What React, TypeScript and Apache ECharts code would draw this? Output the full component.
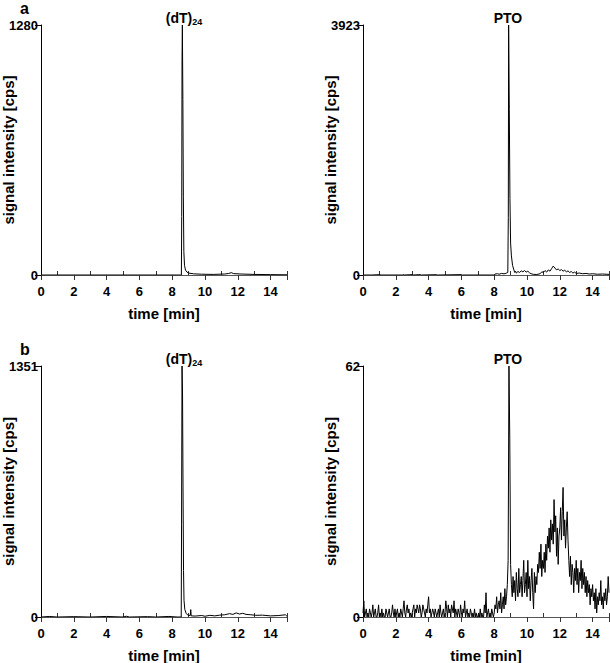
import React, { useEffect, useRef } from "react";
import * as echarts from "echarts";

// ---- data ----
const xTicks = [0, 2, 4, 6, 8, 10, 12, 14];
const xMinorTicks = [1, 3, 5, 7, 9, 11, 13, 15];
const panelTitles = ["(dT)24", "PTO", "(dT)24", "PTO"];
const panelLetters = ["a", "b"];
const yMaxes = [1280, 3923, 1351, 62];

// a, (dT)24 : [time min, cps]
const aDt24: [number, number][] = [
  [0, 0], [8.5, 0], [8.56, 0], [8.58, 300], [8.6, 1100], [8.62, 1280], [8.65, 900], [8.68, 400],
  [8.71, 120], [8.75, 50], [8.81, 25], [8.9, 15], [9.0, 10], [9.3, 6], [9.8, 4], [10.5, 3],
  [11.2, 5], [11.45, 8], [11.6, 12], [11.75, 7], [12.2, 5], [13, 3], [14, 2], [15, 1],
];

// a, PTO
const aPto: [number, number][] = [
  [0, 0], [0.5, 0], [1.0, 5], [1.1, 0], [2.4, 0], [2.45, 8], [2.5, 0], [3.0, 6], [3.05, 0],
  [3.5, 6], [3.55, 0], [4.5, 5], [4.55, 0], [6.0, 6], [6.05, 0], [8.0, 0], [8.05, 15], [8.2, 20],
  [8.3, 12], [8.45, 25], [8.6, 18], [8.75, 30], [8.83, 40], [8.86, 900], [8.88, 3923], [8.92, 2600],
  [8.96, 1200], [9.0, 500], [9.05, 300], [9.12, 150], [9.2, 80], [9.25, 40], [9.3, 60], [9.35, 30],
  [9.45, 55], [9.55, 40], [9.65, 65], [9.75, 50], [9.85, 70], [9.95, 45], [10.05, 60], [10.15, 35],
  [10.25, 20], [10.4, 10], [10.6, 8], [10.8, 20], [10.9, 50], [11.0, 40], [11.1, 70], [11.2, 45],
  [11.3, 80], [11.4, 60], [11.5, 100], [11.6, 140], [11.7, 110], [11.8, 80], [11.9, 95], [12.0, 70],
  [12.1, 85], [12.2, 60], [12.3, 75], [12.4, 50], [12.5, 65], [12.6, 40], [12.7, 55], [12.8, 30],
  [12.9, 45], [13.0, 25], [13.2, 30], [13.4, 20], [13.6, 25], [13.8, 15], [14.0, 20], [14.3, 12],
  [14.6, 15], [15.0, 10],
];

// b, (dT)24
const bDt24: [number, number][] = [
  [0, 0], [0.5, 3], [1.0, 0], [2.0, 2], [3.0, 0], [4.0, 3], [5.0, 0], [5.2, 4], [5.4, 0], [6.5, 2],
  [7.0, 0], [7.8, 3], [8.3, 0], [8.55, 0], [8.57, 500], [8.6, 1351], [8.63, 1200], [8.66, 700],
  [8.69, 250], [8.72, 90], [8.77, 40], [8.85, 20], [8.95, 10], [9.1, 8], [9.13, 40], [9.16, 6],
  [9.4, 5], [9.8, 8], [10.0, 4], [10.3, 9], [10.6, 6], [10.9, 10], [11.2, 12], [11.5, 18],
  [11.7, 14], [11.9, 22], [12.1, 16], [12.3, 20], [12.5, 14], [12.8, 12], [13.1, 9], [13.5, 10],
  [14.0, 6], [14.5, 8], [14.9, 12], [15.0, 4],
];

// b, PTO : one value every 0.05 min from 0 to 15
const bPtoValues: number[] = [
  1, 4, 0, 1, 2, 0, 1, 0, 2, 1, 0, 1, 3, 0, 1, 2, 0, 0, 1, 3,
  0, 1, 0, 2, 0, 1, 0, 0, 2, 1, 0, 1, 2, 0, 0, 1, 3, 1, 0, 2,
  0, 1, 2, 0, 1, 0, 2, 1, 0, 2, 4, 1, 0, 2, 3, 1, 2, 0, 1, 0,
  1, 2, 3, 0, 2, 1, 3, 2, 1, 3, 2, 0, 1, 3, 2, 1, 0, 2, 1, 3,
  5, 1, 2, 0, 1, 2, 1, 0, 2, 1, 0, 1, 2, 0, 3, 1, 0, 1, 2, 0,
  1, 4, 2, 0, 3, 1, 2, 0, 3, 2, 1, 4, 0, 2, 1, 0, 2, 1, 0, 3,
  1, 0, 2, 1, 4, 0, 1, 2, 0, 1, 0, 2, 1, 0, 1, 0, 2, 0, 1, 0,
  0, 1, 0, 2, 0, 1, 0, 0, 3, 1, 6, 0, 1, 2, 0, 1, 0, 2, 1, 0,
  1, 3, 2, 5, 1, 3, 4, 2, 6, 1, 3, 5, 2, 7, 3, 5, 8, 14, 62, 44,
  13, 8, 5, 10, 6, 9, 4, 11, 7, 5, 12, 6, 8, 10, 5, 9, 14, 6, 8, 11,
  5, 14, 7, 10, 4, 9, 12, 6, 2, 11, 6, 10, 8, 13, 11, 16, 12, 18, 10, 14,
  12, 16, 11, 18, 14, 20, 17, 22, 16, 24, 19, 23, 18, 29, 21, 25, 15, 22, 13, 20,
  22, 27, 19, 26, 32, 20, 24, 17, 22, 26, 19, 14, 10, 15, 8, 13, 11, 6, 12, 9,
  14, 8, 12, 6, 11, 9, 14, 7, 12, 8, 11, 6, 10, 5, 9, 6, 8, 3, 7, 5,
  8, 4, 6, 2, 7, 1, 5, 3, 6, 4, 9, 3, 5, 2, 6, 4, 7, 3, 5, 10,
  6,
];
const bPtoTimes: number[] = bPtoValues.map((_, i) => Math.round(i * 5) / 100);
const bPto: [number, number][] = bPtoTimes.map((t, i) => [t, bPtoValues[i]]);

const seriesData = [aDt24, aPto, bDt24, bPto];

export default function App() {
  const ref = useRef<HTMLDivElement>(null);
  useEffect(() => {
    if (!ref.current) return;
    const chart = echarts.init(ref.current, null, { renderer: "svg" });
    const font = "Liberation Sans, Arial, sans-serif";
    const grids = [
      { left: 41, top: 25, width: 246, height: 250, outerBoundsMode: "none" },
      { left: 363, top: 25, width: 246, height: 250, outerBoundsMode: "none" },
      { left: 41, top: 366, width: 246, height: 251, outerBoundsMode: "none" },
      { left: 363, top: 366, width: 246, height: 251, outerBoundsMode: "none" },
    ];
    const xAxes: any[] = grids.map((_, i) => ({
      type: "value",
      gridIndex: i,
      min: 0,
      max: 15,
      interval: 2,
      name: "time [min]",
      nameLocation: "middle",
      nameGap: 31,
      nameMoveOverlap: false,
      nameTextStyle: { fontFamily: font, fontWeight: "bold", fontSize: 15, color: "#000" },
      axisLine: { show: true, lineStyle: { color: "#555", width: 1 } },
      axisTick: { show: true, length: 5, lineStyle: { color: "#333" } },
      splitLine: { show: false },
      axisLabel: {
        fontFamily: font, fontWeight: "bold", fontSize: 13, color: "#000", margin: 10,
        customValues: xTicks,
      },
    }));
    // inward minor ticks at odd minutes
    grids.forEach((_, i) => {
      xAxes.push({
        type: "value",
        gridIndex: i,
        position: "bottom",
        min: 0,
        max: 15,
        interval: 1,
        axisLine: { show: false },
        axisTick: { show: true, inside: true, length: 4, customValues: xMinorTicks, lineStyle: { color: "#333" } },
        axisLabel: { show: false },
        splitLine: { show: false },
      });
    });
    const yAxes = grids.map((_, i) => ({
      type: "value" as const,
      gridIndex: i,
      min: 0,
      max: yMaxes[i],
      interval: yMaxes[i],
      name: "signal intensity [cps]",
      nameLocation: "middle" as const,
      nameGap: 25,
      nameMoveOverlap: false,
      nameTextStyle: { fontFamily: font, fontWeight: "bold", fontSize: 15, color: "#000" },
      axisLine: { show: true, lineStyle: { color: "#000", width: 1 } },
      axisTick: { show: true, length: 6, lineStyle: { color: "#000" } },
      splitLine: { show: false },
      axisLabel: {
        fontFamily: font, fontWeight: "bold", fontSize: 13, color: "#000", margin: 3,
        formatter: (v: number) => String(v),
      },
    }));
    const series = seriesData.map((d, i) => ({
      type: "line" as const,
      xAxisIndex: i,
      yAxisIndex: i,
      data: d,
      showSymbol: false,
      lineStyle: { color: "#000", width: 1 },
      silent: true,
      z: 3,
    }));
    const richTitle = {
      m: { fontFamily: font, fontWeight: "bold", fontSize: 14, color: "#000" },
      s: { fontFamily: font, fontWeight: "bold", fontSize: 9, color: "#000", padding: [8, 0, 0, 0] },
    };
    const titleText = (t: string) =>
      t.startsWith("(dT)") ? `{m|(dT)}{s|${t.slice(4)}}` : `{m|${t}}`;
    const titleCenters = [
      { x: 184, y: 18 },
      { x: 508, y: 18 },
      { x: 184, y: 359 },
      { x: 508, y: 359 },
    ];
    const graphics: any[] = panelTitles.map((t, i) => ({
      type: "text",
      x: titleCenters[i].x,
      y: titleCenters[i].y,
      style: {
        text: titleText(t),
        rich: richTitle,
        align: "center",
        verticalAlign: "middle",
      },
    }));
    panelLetters.forEach((l, i) => {
      graphics.push({
        type: "text",
        x: 20,
        y: i === 0 ? 8 : 349,
        style: {
          text: l,
          fontFamily: font,
          fontWeight: "bold",
          fontSize: 16,
          fill: "#000",
          align: "left",
          verticalAlign: "middle",
        },
      });
    });
    chart.setOption({
      animation: false,
      backgroundColor: "#fff",
      grid: grids,
      xAxis: xAxes,
      yAxis: yAxes,
      series,
      graphic: graphics,
    });
    return () => chart.dispose();
  }, []);
  return (
    <div
      ref={ref}
      style={{ position: "fixed", left: 0, top: 0, width: 610, height: 663 }}
    />
  );
}
